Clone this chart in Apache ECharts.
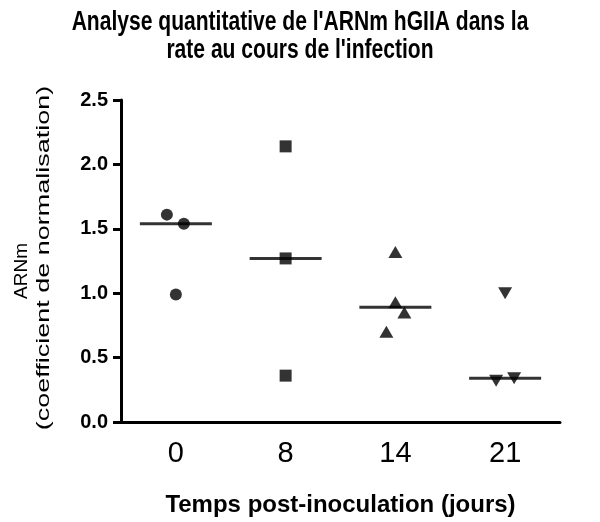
<!DOCTYPE html>
<html>
<head>
<meta charset="utf-8">
<script src="https://cdn.jsdelivr.net/npm/echarts@6/dist/echarts.min.js"></script>
<style>html,body{margin:0;padding:0;background:#fff}#c{width:600px;height:522px}</style>
</head>
<body>
<div id="c"></div>
<script>
var categories = ['0', '8', '14', '21'];
var day0 = [1.61, 1.54, 0.99];
var day8 = [2.14, 1.27, 0.36];
var day14 = [1.32, 0.93, 0.85, 0.70];
var day21 = [1.00, 0.32, 0.34];
var yTicks = [0, 0.5, 1.0, 1.5, 2.0, 2.5];
var titleText = "Analyse quantitative de l'ARNm hGIIA dans la\nrate au cours de l'infection";
var xName = 'Temps post-inoculation (jours)';
var yName1 = 'ARNm';
var yName2 = '(coefficient de normalisation)';

// horizontal jitter (px) of each point within its column
var jitter0 = [-9, 8, 0];
var jitter8 = [0, 0, 0];
var jitter14 = [0, 0, 9, -9];
var jitter21 = [0, -9, 9];

function median(a) {
  var s = a.slice().sort(function (x, y) { return x - y; });
  var n = s.length;
  return n % 2 ? s[(n - 1) / 2] : (s[n / 2 - 1] + s[n / 2]) / 2;
}
function pts(cat, vals, jit) {
  return vals.map(function (v, i) {
    return { value: [cat, v], symbolOffset: [jit[i], 0] };
  });
}
var groups = [day0, day8, day14, day21];
var medians = groups.map(function (g, i) { return [categories[i], median(g)]; });

var chart = echarts.init(document.getElementById('c'), null, { renderer: 'canvas' });
var base = { type: 'scatter', itemStyle: { color: '#000' }, silent: true };
chart.setOption({
  animation: false,
  backgroundColor: '#fff',
  grid: { left: 121, right: 40, top: 100, bottom: 99 },
  xAxis: {
    type: 'category',
    data: categories,
    boundaryGap: true,
    axisLine: { lineStyle: { color: '#000', width: 3 } },
    axisTick: { alignWithLabel: true, length: 8, lineStyle: { color: '#000', width: 3 } },
    axisLabel: { color: '#000', fontSize: 29, fontFamily: "'Liberation Sans Narrow','Arial Narrow','Liberation Sans',Arial", margin: 17 },
    name: xName,
    nameLocation: 'middle',
    nameGap: 71,
    nameTextStyle: { color: '#000', fontSize: 24, fontWeight: 'bold', fontFamily: "'Liberation Sans',Arial" }
  },
  yAxis: {
    type: 'value',
    min: 0, max: 2.5, interval: 0.5,
    axisLine: { show: true, lineStyle: { color: '#000', width: 3 } },
    axisTick: { show: true, length: 8, lineStyle: { color: '#000', width: 3 } },
    splitLine: { show: false },
    axisLabel: {
      color: '#000', fontSize: 20, fontWeight: 'bold', fontFamily: "'Liberation Sans',Arial", margin: 13,
      formatter: function (v) { return v.toFixed(1); }
    }
  },
  graphic: [
    { type: 'text', x: 300, y: 9, scaleX: 0.78, silent: true,
      style: { text: titleText, textAlign: 'center', textVerticalAlign: 'top', fill: '#000',
               font: "bold 27px 'Liberation Sans', Arial", lineHeight: 28 } },
    { type: 'text', x: 22, y: 271, rotation: Math.PI / 2, silent: true,
      style: { text: yName1, textAlign: 'center', textVerticalAlign: 'middle', fill: '#000',
               font: "19px 'Liberation Sans', Arial" } },
    { type: 'text', x: 44, y: 258, rotation: Math.PI / 2, scaleX: 1.42, silent: true,
      style: { text: yName2, textAlign: 'center', textVerticalAlign: 'middle', fill: '#000',
               font: "19px 'Liberation Sans', Arial" } }
  ],
  series: [
    Object.assign({}, base, { symbol: 'circle', symbolSize: 12, data: pts('0', day0, jitter0) }),
    Object.assign({}, base, { symbol: 'rect', symbolSize: 12, data: pts('8', day8, jitter8) }),
    Object.assign({}, base, { symbol: 'triangle', symbolSize: [14, 12], data: pts('14', day14, jitter14) }),
    Object.assign({}, base, { symbol: 'triangle', symbolRotate: 180, symbolSize: [14, 12], data: pts('21', day21, jitter21) }),
    Object.assign({}, base, { symbol: 'rect', symbolSize: [72, 3], data: medians, z: 1 })
  ]
});
</script>
</body>
</html>
